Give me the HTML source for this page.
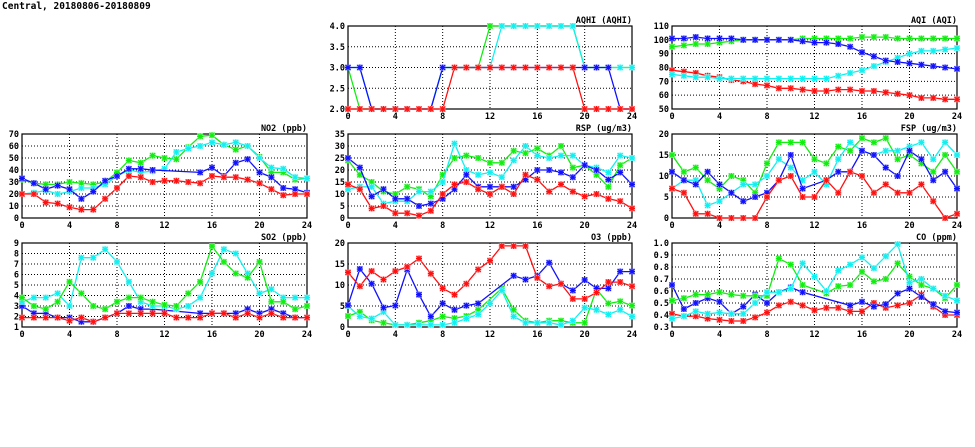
<!DOCTYPE html>
<html><head><meta charset="utf-8"><style>
html,body{margin:0;padding:0;background:#fff;}
svg{display:block;font-family:"DejaVu Sans Mono","Liberation Mono",monospace;}
</style></head><body>
<svg id="c" width="975" height="447" viewBox="0 0 975 447">
<text x="2" y="9" font-size="9.5" font-weight="bold">Central, 20180806-20180809</text>
</svg>
<script>
const hours = [0,1,2,3,4,5,6,7,8,9,10,11,12,13,14,15,16,17,18,19,20,21,22,23,24];
const xTicks = [0,4,8,12,16,20,24];
const N = null;
const no2Red = [20,20,13,12,9,7,7,16,25,35,34,30,31,31,30,29,35,34,34,32,29,24,19,20,20];
const no2Green = [32,29,28,28,30,29,28,30,38,48,46,52,50,49,59,68,69,61,57,60,51,38,38,32,33];
const no2Cyan = [20,21,23,20,22,25,25,28,35,40,38,39,41,55,58,60,63,61,63,60,50,42,41,34,33];
const no2Blue = [33,29,24,27,24,16,22,31,35,41,41,40,N,N,N,38,42,35,46,49,38,34,25,24,21];
const aqhiGreen = [3,2,2,2,2,2,2,2,3,3,3,3,4,4,4,4,4,4,4,4,3,3,3,3,3];
const aqhiCyan = [3,3,2,2,2,2,2,2,3,3,3,3,3,4,4,4,4,4,4,4,3,3,3,3,3];
const aqhiBlue = [3,3,2,2,2,2,2,2,3,3,3,3,3,3,3,3,3,3,3,3,3,3,3,2,2];
const aqhiRed = [2,2,2,2,2,2,2,2,2,3,3,3,3,3,3,3,3,3,3,3,2,2,2,2,2];
const aqiGreen = [95,96,97,97,98,99,100,100,100,100,100,101,101,101,101,101,102,102,102,101,101,101,101,101,101];
const aqiCyan = [75,74,73,73,72,72,72,72,72,72,72,72,72,72,74,76,78,81,84,87,90,92,92,93,94];
const aqiBlue = [101,101,102,101,101,101,100,100,100,100,100,99,98,98,97,95,91,88,85,84,83,82,81,80,79];
const aqiRed = [78,77,76,74,73,71,70,68,67,65,65,64,63,63,64,64,63,63,62,61,60,58,58,57,57];
const rspRed = [14,12,4,5,2,2,1,3,10,14,15,12,10,13,10,18,16,11,14,11,9,10,8,7,4];
const rspGreen = [24,18,15,11,10,13,12,9,18,25,26,25,23,23,28,27,29,26,30,21,22,18,13,22,25];
const rspCyan = [12,13,13,6,7,7,11,11,15,31,20,18,19,17,24,30,26,25,26,26,22,21,19,26,25];
const rspBlue = [25,21,9,12,8,8,5,6,8,12,18,13,13,13,13,16,20,20,19,17,22,20,16,19,14];
const fspRed = [7,6,1,1,0,0,0,0,5,9,10,5,5,9,6,11,10,6,8,6,6,8,4,0,1];
const fspGreen = [15,11,12,9,7,10,9,6,13,18,18,18,14,13,17,16,19,18,19,14,15,13,11,15,11];
const fspCyan = [7,9,9,3,4,6,8,8,10,14,12,9,11,8,14,18,16,15,16,16,17,18,14,18,15];
const fspBlue = [11,9,8,11,8,6,4,5,6,9,15,7,N,9,11,11,16,15,12,10,16,14,9,11,7];
const so2Red = [1.9,1.9,1.9,1.9,1.6,1.9,1.5,1.9,2.3,2.3,2.3,2.3,2.3,1.9,1.9,1.9,2.3,2.3,1.9,2.3,1.9,2.3,1.9,1.9,1.9];
const so2Green = [3.8,3.0,2.7,3.4,5.3,4.2,3.0,2.7,3.4,3.8,3.8,3.4,3.1,3.0,4.2,5.3,8.7,7.2,6.1,5.7,7.2,3.4,3.4,2.7,3.0];
const so2Cyan = [3.4,3.8,3.8,4.2,3.0,7.6,7.6,8.4,7.2,5.3,3.4,3.0,3.0,2.7,3.0,3.8,6.1,8.4,8.0,6.1,4.2,4.6,3.8,3.8,3.8];
const so2Blue = [3.0,2.3,2.3,1.9,1.9,1.5,1.5,1.9,2.3,3.0,2.7,2.7,N,N,N,2.3,2.3,2.3,2.3,2.7,2.3,2.7,2.3,1.9,1.9];
const o3Green = [2.6,3.6,1.6,1.0,0.5,0.5,1.0,1.5,2.5,2.1,2.6,4.1,N,9.2,4.1,1.5,1.0,1.5,1.5,1.0,1.0,9.0,5.6,6.1,5.1];
const o3Cyan = [5.0,2.5,2.0,3.6,0.5,0.5,0.5,0.5,0.5,1.0,2.0,3.0,5.6,8.7,2.5,1.0,1.0,1.0,0.5,1.5,4.6,4.1,3.0,4.1,2.5];
const o3Blue = [5.2,13.8,10.3,4.6,5.1,13.7,7.7,2.5,5.6,4.1,5.1,5.6,N,N,12.2,11.3,12.2,15.3,10.3,8.7,11.2,9.2,9.2,13.2,13.2];
const o3Red = [13,9.7,13.3,11.3,13.3,14.3,16.3,12.7,9.2,7.7,10.3,13.7,15.8,19.3,19.3,19.3,11.7,9.7,10.3,6.7,6.7,8.2,10.7,10.7,9.7];
const coGreen = [.52,.54,.57,.57,.59,.57,.56,.56,.56,.87,.82,.65,N,.58,.64,.65,.76,.68,.70,.83,.72,.65,.62,.54,.65];
const coCyan = [.37,.39,.43,.41,.42,.41,.41,.50,.59,.59,.62,.83,.72,.60,.77,.82,.88,.79,.89,.99,.67,.70,.62,.56,.52];
const coBlue = [.65,.45,.50,.54,.51,.41,.47,.57,.50,.59,.63,.59,N,N,N,.48,.51,.47,.49,.58,.62,.55,.49,.43,.42];
const coRed = [.41,.39,.39,.37,.36,.35,.35,.38,.42,.48,.51,.48,.44,.46,.46,.43,.43,.50,.46,.48,.50,.57,.47,.40,.40];

const C = {red:'#ff1010', green:'#10ee10', cyan:'#10f0f0', blue:'#1010ff'};
const L = {red:'#ffb0b0', green:'#b0f8b0', cyan:'#b8f8f8', blue:'#b0b0ff'};
const panels = [
 {name:'aqhi', title:'AQHI (AQHI)', x0:348,x1:632,y0:26,y1:109, yMin:2,yMax:4, yTicks:[2,2.5,3,3.5,4], dec:1,
  series:[['green',aqhiGreen],['cyan',aqhiCyan],['blue',aqhiBlue],['red',aqhiRed]]},
 {name:'aqi', title:'AQI (AQI)', x0:672,x1:957,y0:26,y1:109, yMin:50,yMax:110, yTicks:[50,60,70,80,90,100,110], dec:0,
  series:[['red',aqiRed],['cyan',aqiCyan],['green',aqiGreen],['blue',aqiBlue]]},
 {name:'no2', title:'NO2 (ppb)', x0:22,x1:307,y0:134,y1:218, yMin:0,yMax:70, yTicks:[0,10,20,30,40,50,60,70], dec:0,
  series:[['green',no2Green],['cyan',no2Cyan],['blue',no2Blue],['red',no2Red]]},
 {name:'rsp', title:'RSP (ug/m3)', x0:348,x1:632,y0:134,y1:218, yMin:0,yMax:35, yTicks:[0,5,10,15,20,25,30,35], dec:0,
  series:[['green',rspGreen],['cyan',rspCyan],['blue',rspBlue],['red',rspRed]]},
 {name:'fsp', title:'FSP (ug/m3)', x0:672,x1:957,y0:134,y1:218, yMin:0,yMax:20, yTicks:[0,5,10,15,20], dec:0,
  series:[['green',fspGreen],['cyan',fspCyan],['blue',fspBlue],['red',fspRed]]},
 {name:'so2', title:'SO2 (ppb)', x0:22,x1:307,y0:243,y1:327, yMin:1,yMax:9, yTicks:[1,2,3,4,5,6,7,8,9], dec:0,
  series:[['blue',so2Blue],['red',so2Red],['cyan',so2Cyan],['green',so2Green]]},
 {name:'o3', title:'O3 (ppb)', x0:348,x1:632,y0:243,y1:327, yMin:0,yMax:20, yTicks:[0,5,10,15,20], dec:0,
  series:[['green',o3Green],['cyan',o3Cyan],['blue',o3Blue],['red',o3Red]]},
 {name:'co', title:'CO (ppm)', x0:672,x1:957,y0:243,y1:327, yMin:0.3,yMax:1.0, yTicks:[.3,.4,.5,.6,.7,.8,.9,1.0], dec:1,
  series:[['red',coRed],['blue',coBlue],['green',coGreen],['cyan',coCyan]]},
];
const svg = document.getElementById('c');
const NS = 'http://www.w3.org/2000/svg';
function mk(tag, attrs, parent){const e=document.createElementNS(NS,tag);for(const k in attrs)e.setAttribute(k,attrs[k]);(parent||svg).appendChild(e);return e;}
panels.forEach(p=>{
  const g = mk('g',{});
  
  
  const xs = h => p.x0 + (h/24)*(p.x1-p.x0);
  const ys = v => p.y1 - (v-p.yMin)/(p.yMax-p.yMin)*(p.y1-p.y0);
  p.yTicks.forEach(t=>{
    const y=ys(t);
    if(t!==p.yMin && t!==p.yMax){
      const l=mk('line',{x1:p.x0,x2:p.x1,y1:y,y2:y,stroke:'#000','stroke-width':1,'stroke-dasharray':'1,2'},g);
      
      
    }
    const tx=mk('text',{x:p.x0-3,y:y+3,'font-size':8.5,'font-weight':'bold','text-anchor':'end'},g);
    tx.textContent = p.dec? t.toFixed(p.dec): String(t);
    
    
  });
  xTicks.forEach(t=>{
    const x=xs(t);
    if(t!==0 && t!==24){
      const l=mk('line',{x1:x,x2:x,y1:p.y0,y2:p.y1,stroke:'#000','stroke-width':1,'stroke-dasharray':'1,2'},g);
      
      
    }
    const tx=mk('text',{x:x,y:p.y1+10,'font-size':8.5,'font-weight':'bold','text-anchor':'middle'},g);
    tx.textContent=String(t);
    
    
  });
  const fr=mk('rect',{x:p.x0,y:p.y0,width:p.x1-p.x0,height:p.y1-p.y0,fill:'none',stroke:'#000','stroke-width':1.2},g);
  
  
  const tt=mk('text',{x:p.x1,y:p.y0-3,'font-size':8.5,'font-weight':'bold','text-anchor':'end'},g);
  tt.textContent=p.title;
  
  
  p.series.forEach(([col,vals])=>{
    const pts=[];
    vals.forEach((v,i)=>{ if(v!==null) pts.push([xs(hours[i]),ys(v)]); });
    const pl=mk('polyline',{points:pts.map(q=>q[0].toFixed(1)+','+q[1].toFixed(1)).join(' '),fill:'none',stroke:C[col],'stroke-width':1.3},g);
    
    
    pts.forEach(q=>{
      const bg=mk('rect',{x:q[0]-3,y:q[1]-3,width:6,height:6,fill:L[col]},g);
      
      
      const m=mk('path',{d:`M${q[0]-2.5},${q[1]-2.5}l5,5m0,-5l-5,5M${q[0]},${q[1]-3}v6M${q[0]-3},${q[1]}h6`,stroke:C[col],'stroke-width':1.2,fill:'none'},g);
      
      
    });
  });
});
</script>
</body></html>
